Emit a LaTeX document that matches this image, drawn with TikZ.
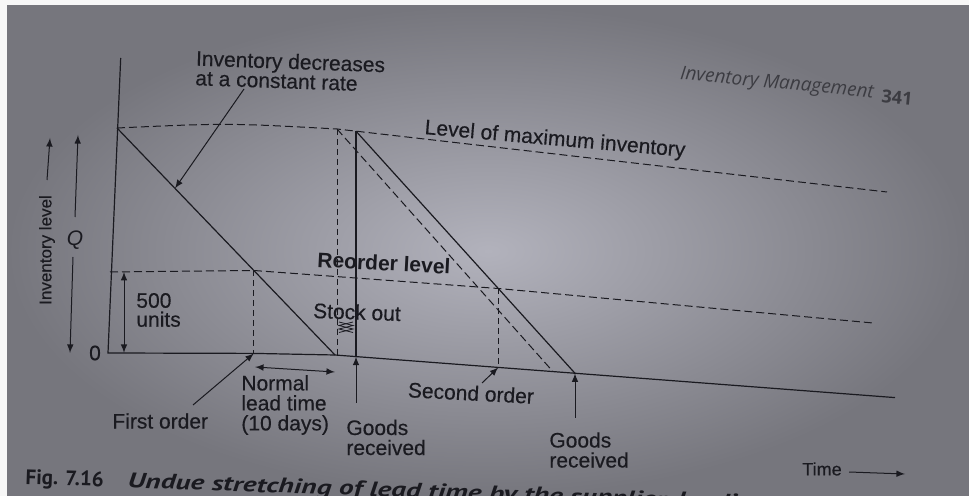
\documentclass[tikz,border=0pt]{standalone}
\usepackage{fontspec}
\setmainfont{Liberation Sans}[UprightFeatures={FakeBold=0.35}]
\newfontfamily\capfont{PT Sans}
\newfontfamily\hdrfont{Open Sans}
\usetikzlibrary{arrows}
\definecolor{ink}{RGB}{26,26,32}
\definecolor{paper}{RGB}{178,178,188}
\definecolor{paperdk}{RGB}{118,118,125}
\tikzset{
  lbl/.style={font=\fontsize{10.5}{10}\selectfont, text=ink, inner sep=0pt, align=left},
  solidln/.style={draw=ink, line width=0.6pt},
  dashln/.style={draw=ink, line width=0.5pt, dash pattern=on 4pt off 2pt},
  vdash/.style={dashln, dash pattern=on 3pt off 2pt},
  ptr/.style={draw=ink, line width=0.5pt, -latex},
  dptr/.style={draw=ink, line width=0.5pt, latex-latex}
}

\begin{document}
\begin{tikzpicture}[x=0.5pt,y=-0.5pt]
\useasboundingbox (0,0) rectangle (969,496);
\fill[white!94!gray] (0,0) rectangle (969,496);
\shade[inner color=paper, outer color=paperdk] (7,6) rectangle (969,496);

% key points of the chart
\coordinate (ytop) at (120.7,58);
\coordinate (O) at (108,353);
\coordinate (Qtop) at (117,128);
\coordinate (R0) at (110,272);
\coordinate (R1) at (253.9,270.5);
\coordinate (F1) at (253.9,353.4);
\coordinate (E1) at (335,355);
\coordinate (M1) at (337,129);
\coordinate (D1) at (337,355.2);
\coordinate (G1top) at (356,131.2);
\coordinate (G1) at (356,356.6);
\coordinate (R2) at (498.3,288.5);
\coordinate (F2) at (498.3,367.4);
\coordinate (D2) at (553,371.6);
\coordinate (G2) at (575,373.3);
\coordinate (Xend) at (895,397.6);
\coordinate (Mend) at (887,192);
\coordinate (Rend) at (873,323);

% axes
\draw[solidln] (ytop) -- (O) -- (F1) -- (E1) -- (Xend);

% max and reorder levels
\draw[dashln] (Qtop) .. controls (227,123) .. (M1) -- (Mend);
\draw[dashln] (R0) -- (R1) -- (R2) -- (Rend);

% stock lines
\draw[solidln] (Qtop) -- (E1);
\draw[solidln] (G1top) -- (G1);
\draw[solidln] (G1top) -- (G2);
\draw[dashln] (M1) -- (D2);
\draw[vdash] (M1) -- (D1);
\draw[vdash] (R1) -- (F1);
\draw[vdash] (R2) -- (F2);

% stock out mark
\draw[ink, line width=0.4pt] (339,322) -- (353,325.5) -- (339,329) -- (353,332.5);
\draw[ink, line width=0.4pt] (353,322) -- (339,325.5) -- (353,329) -- (339,332.5);

% labels
\node[lbl, anchor=north west, rotate=-2, font=\fontsize{10.5}{9.8}\selectfont] (declbl) at (196,50) {Inventory decreases\\at a constant rate};
\coordinate (dectail) at (244,89);
\path (Qtop) -- (E1) coordinate[pos=0.266] (decpt);
\draw[ptr] (dectail) -- (decpt);

\node[lbl, rotate=-5] (maxlbl) at (555,140) {Level of maximum inventory};
\node[lbl, font=\fontsize{10.5}{10}\selectfont\bfseries, rotate=-3] (reolbl) at (384,263) {Reorder level};
\node[lbl, rotate=-2] (stocklbl) at (357,312) {Stock out};

\node[lbl, anchor=west, font=\fontsize{10.5}{9.5}\selectfont] (unitlbl) at (136,310) {500\\units};
\coordinate (u1) at (124,271.9);
\coordinate (u2) at (124,353);
\draw[dptr] (u1) -- (u2);

\node[lbl] (zero) at (95,353) {0};
\node[lbl, font=\fontsize{10.5}{10}\selectfont\itshape] (qlbl) at (75,240) {Q};
\coordinate (q1) at (75,217);
\coordinate (q2) at (78,135);
\coordinate (q3) at (73,257);
\coordinate (q4) at (70,353);
\draw[ptr] (q1) -- (q2);
\draw[ptr] (q3) -- (q4);

\node[lbl, rotate=90, font=\fontsize{8.5}{9}\selectfont] (invlbl) at (47,250) {Inventory level};
\coordinate (inv1) at (47,180);
\coordinate (inv2) at (50,138);
\draw[ptr] (inv1) -- (inv2);

\node[lbl, anchor=west] (folbl) at (112,421) {First order};
\coordinate (fotail) at (193,405);
\draw[ptr] (fotail) -- (F1);

\node[lbl, anchor=west] (nltlbl) at (241,405) {Normal\\lead time\\(10 days)};
\coordinate (nl1) at (255,367);
\coordinate (nl2) at (335,372);
\draw[dptr] (nl1) -- (nl2);

\node[lbl, anchor=west] (gr1lbl) at (346,437.5) {Goods\\received};
\coordinate (g1tail) at (356,403);
\draw[ptr] (g1tail) -- (G1);

\node[lbl, rotate=-3] (solbl) at (471,393) {Second order};
\coordinate (sotail) at (482,383);
\draw[ptr] (sotail) -- (F2);

\node[lbl, anchor=west] (gr2lbl) at (549,450) {Goods\\received};
\coordinate (g2tail) at (575,418);
\draw[ptr] (g2tail) -- (G2);

\node[lbl, font=\fontsize{9}{9}\selectfont] (timelbl) at (822,469) {Time};
\coordinate (t1) at (849,472);
\coordinate (t2) at (905,474);
\draw[ptr] (t1) -- (t2);

% page header and caption
\node[font=\hdrfont\itshape\fontsize{9.5}{10}\selectfont, text=ink!85, inner sep=0pt, rotate=-5.5] (hdr) at (777,84) {Inventory Management};
\node[font=\hdrfont\bfseries\fontsize{9}{9}\selectfont, text=ink!85, inner sep=0pt, rotate=-5.5] (pg) at (897,98) {341};
\node[anchor=base west, rotate=-2, text=ink, inner sep=0pt, font=\capfont\bfseries\fontsize{10.5}{11}\selectfont] (cap) at (25,484) {Fig. 7.16\hspace{12pt}\scalebox{1.4}[1]{\itshape Undue stretching of lead time by the supplier, leading}};
\end{tikzpicture}
\end{document}
